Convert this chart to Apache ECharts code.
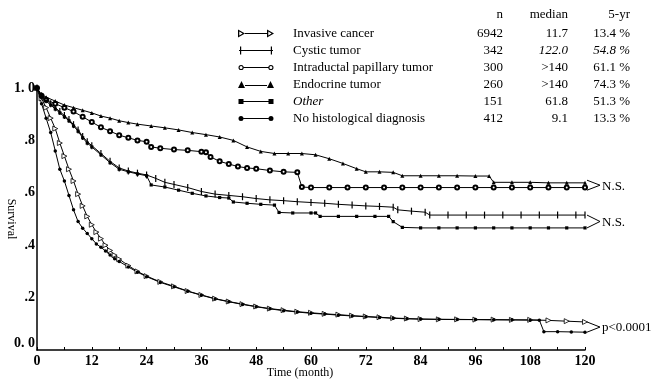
<!DOCTYPE html>
<html><head><meta charset="utf-8">
<script src="https://cdn.jsdelivr.net/npm/echarts@6/dist/echarts.min.js"></script>
<style>html,body{margin:0;padding:0;background:#fff}#c{width:655px;height:381px}</style>
</head><body><div id="c"></div>
<script>
// ---- data ----
const seriesNames = ['Invasive cancer', 'Cystic tumor', 'Intraductal papillary tumor', 'Endocrine tumor', 'Other', 'No histological diagnosis'];
const nValues = ['6942', '342', '300', '260', '151', '412'];
const medianValues = ['11.7', '122.0', '>140', '>140', '61.8', '9.1'];
const fiveYear = ['13.4 %', '54.8 %', '61.1 %', '74.3 %', '51.3 %', '13.3 %'];
const tableHeader = ['n', 'median', '5-yr'];
const pairLabels = ['N.S.', 'N.S.', 'p<0.0001'];

const invT = [0,1,2,3,4,5,6,7,8,9,10,11,12,13,14,15,16,17,18,20,22,24,27,30,33,36,39,42,45,48,51,54,57,60,63,66,69,72,75,78,81,84,88,92,96,100,104,108,112,116,120];
const invS = [1.0,0.96,0.925,0.885,0.845,0.79,0.74,0.69,0.645,0.595,0.55,0.51,0.478,0.45,0.425,0.40,0.38,0.362,0.347,0.322,0.30,0.282,0.26,0.243,0.225,0.21,0.196,0.185,0.175,0.166,0.158,0.152,0.146,0.142,0.138,0.135,0.131,0.128,0.125,0.122,0.12,0.118,0.117,0.117,0.116,0.116,0.115,0.115,0.113,0.11,0.107];

const cyT = [0,1,2,3,4,5,6,7,8,9,10,11,12,14,16,18,20,22,24,26,28,30,33,36,39,42,45,48,51,54,57,60,63,66,69,72,75,78,79,82,85,86,90,94,98,102,106,110,114,118,120];
const cyS = [1.0,0.97,0.955,0.94,0.925,0.91,0.895,0.88,0.86,0.84,0.815,0.795,0.78,0.75,0.72,0.695,0.683,0.675,0.668,0.655,0.64,0.632,0.62,0.605,0.595,0.59,0.585,0.578,0.573,0.57,0.566,0.563,0.56,0.556,0.553,0.55,0.548,0.545,0.535,0.53,0.526,0.515,0.515,0.515,0.515,0.515,0.515,0.515,0.515,0.515,0.515];

const ipT = [0,1,2,4,6,8,10,12,14,16,18,20,22,24,25,27,30,33,36,37,38,40,42,44,46,48,51,54,57,58,60,64,68,72,76,80,84,88,92,96,100,104,108,112,116,120];
const ipS = [1.0,0.97,0.955,0.94,0.925,0.91,0.89,0.87,0.85,0.835,0.82,0.81,0.80,0.795,0.775,0.77,0.765,0.762,0.757,0.755,0.737,0.72,0.71,0.70,0.695,0.692,0.685,0.68,0.678,0.622,0.62,0.62,0.62,0.62,0.62,0.62,0.62,0.62,0.62,0.62,0.62,0.62,0.62,0.62,0.62,0.62];

const endoT = [0,1,2,4,6,8,10,12,14,16,18,20,22,25,28,31,34,37,40,43,46,49,52,55,58,61,64,67,70,72,75,78,80,84,88,92,96,99,100,104,108,112,116,120];
const endoS = [1.0,0.975,0.965,0.95,0.935,0.925,0.915,0.905,0.893,0.885,0.875,0.868,0.862,0.855,0.848,0.84,0.83,0.822,0.813,0.80,0.775,0.758,0.75,0.75,0.75,0.745,0.73,0.712,0.692,0.68,0.68,0.678,0.665,0.665,0.665,0.665,0.664,0.664,0.64,0.64,0.64,0.638,0.638,0.638];

const otT = [0,1,2,3,4,5,6,7,8,9,10,11,12,14,16,18,20,22,24,25,28,31,34,37,40,42,43,46,49,52,53,56,60,61,62,66,70,74,77,78,80,84,88,92,96,100,104,108,112,116,120];
const otS = [1.0,0.965,0.95,0.935,0.92,0.905,0.89,0.875,0.855,0.835,0.81,0.79,0.775,0.745,0.715,0.69,0.68,0.672,0.665,0.63,0.622,0.61,0.598,0.588,0.582,0.58,0.565,0.56,0.556,0.553,0.525,0.523,0.523,0.523,0.51,0.51,0.51,0.51,0.51,0.49,0.468,0.466,0.466,0.466,0.466,0.466,0.466,0.466,0.466,0.466,0.466];

const nhT = [0,1,2,3,4,5,6,7,8,9,10,11,12,13,14,15,16,17,18,20,22,24,27,30,33,36,39,42,45,48,51,54,57,60,63,66,69,72,75,78,81,84,88,92,96,100,104,108,110,111,114,117,120];
const nhS = [1.0,0.94,0.885,0.83,0.76,0.69,0.645,0.59,0.535,0.49,0.465,0.445,0.425,0.405,0.392,0.378,0.363,0.348,0.338,0.317,0.297,0.28,0.258,0.241,0.224,0.209,0.195,0.184,0.174,0.165,0.157,0.15,0.145,0.14,0.137,0.133,0.13,0.127,0.124,0.121,0.119,0.118,0.117,0.116,0.116,0.115,0.115,0.114,0.114,0.07,0.07,0.069,0.068];

// ---- styling ----
const SERIF = 'Liberation Serif';
const zip = (t, s) => t.map((v, i) => [v, s[i]]);
const anchors = 'M0,0L0.01,0L0,0.01Z M36,8L35.99,8L36,7.99Z ';
const legendIcons = [
  'path://' + anchors + 'M0,0L7,4L0,8Z M1.3,2.1L1.3,5.9L4.6,4Z M7,3.5H29V4.5H7Z M29,0L36,4L29,8Z M30.3,2.1L30.3,5.9L33.6,4Z',
  'path://' + anchors + 'M1,3.5H35V4.5H1Z M2,0H3.2V8H2Z M32.8,0H34V8H32.8Z',
  'path://' + anchors + 'M0.5,4A2.6,2.6 0 1,1 5.7,4A2.6,2.6 0 1,1 0.5,4Z M1.6,4A1.5,1.5 0 1,0 4.6,4A1.5,1.5 0 1,0 1.6,4Z M5.7,3.5H30.3V4.5H5.7Z M30.3,4A2.6,2.6 0 1,1 35.5,4A2.6,2.6 0 1,1 30.3,4Z M31.4,4A1.5,1.5 0 1,0 34.4,4A1.5,1.5 0 1,0 31.4,4Z',
  'path://' + anchors + 'M0,7.5L3.5,0.5L7,7.5Z M7,4.5H29V5.5H7Z M29,7.5L32.5,0.5L36,7.5Z',
  'path://' + anchors + 'M0.5,1.5H5.5V6.5H0.5Z M5.5,3.5H30.5V4.5H5.5Z M30.5,1.5H35.5V6.5H30.5Z',
  'path://' + anchors + 'M0.5,4A2.5,2.5 0 1,1 5.5,4A2.5,2.5 0 1,1 0.5,4Z M5.5,3.5H30.5V4.5H5.5Z M30.5,4A2.5,2.5 0 1,1 35.5,4A2.5,2.5 0 1,1 30.5,4Z'
];

const seriesData = [zip(invT, invS), zip(cyT, cyS), zip(ipT, ipS), zip(endoT, endoS), zip(otT, otS), zip(nhT, nhS)];
const symbols = [
  { symbol: 'path://M0,0L10,5L0,10Z', symbolSize: 5, itemStyle: { color: '#fff', borderColor: '#000', borderWidth: 0.8 } },
  { symbol: 'path://M0,0H1V10H0Z', symbolSize: [1.2, 7], itemStyle: { color: '#000', borderWidth: 0 } },
  { symbol: 'emptyCircle', symbolSize: 4, itemStyle: { color: '#000', borderWidth: 1 } },
  { symbol: 'triangle', symbolSize: 4, itemStyle: { color: '#000', borderWidth: 0 } },
  { symbol: 'rect', symbolSize: 3.2, itemStyle: { color: '#000', borderWidth: 0 } },
  { symbol: 'circle', symbolSize: 3.5, itemStyle: { color: '#000', borderWidth: 0 } }
];

const series = seriesNames.map((name, i) => Object.assign({
  name, type: 'line', data: seriesData[i],
  showSymbol: true, showAllSymbol: true,
  lineStyle: { color: '#000', width: 1 },
  emphasis: { disabled: true },
  z: 3
}, symbols[i]));

const richBase = { fontFamily: SERIF, fontSize: 13, color: '#000', lineHeight: 15 };
const rich = {
  sp: Object.assign({ width: 14 }, richBase),
  nm: Object.assign({ width: 180 }, richBase),
  nmI: Object.assign({ width: 180, fontStyle: 'italic' }, richBase),
  n: Object.assign({ width: 30, align: 'right' }, richBase),
  md: Object.assign({ width: 65, align: 'right' }, richBase),
  mdI: Object.assign({ width: 65, align: 'right', fontStyle: 'italic' }, richBase),
  yr: Object.assign({ width: 62, align: 'right' }, richBase),
  yrI: Object.assign({ width: 62, align: 'right', fontStyle: 'italic' }, richBase)
};

const chart = echarts.init(document.getElementById('c'), null, { renderer: 'canvas' });
chart.setOption({
  animation: false,
  backgroundColor: '#fff',
  grid: { left: 37, right: 70, top: 88, bottom: 31, containLabel: false, outerBoundsMode: 'none' },
  legend: {
    orient: 'vertical', left: 238, top: 26, padding: 0,
    itemWidth: 36, itemHeight: 8, itemGap: 2,
    selectedMode: false,
    itemStyle: { color: '#000', borderWidth: 0 },
    data: seriesNames.map((name, i) => ({ name, icon: legendIcons[i] })),
    formatter: function (name) {
      const i = seriesNames.indexOf(name);
      const it = i === 1 ? 'I' : '';
      const nm = i === 4 ? 'nmI' : 'nm';
      return '{sp| }{' + nm + '|' + name + '}{n|' + nValues[i] + '}{md' + it + '|' + medianValues[i] + '}{yr' + it + '|' + fiveYear[i] + '}';
    },
    textStyle: Object.assign({ rich }, richBase)
  },
  xAxis: {
    type: 'value', min: 0, max: 120, interval: 6,
    name: 'Time (month)', nameLocation: 'middle', nameGap: 17, nameMoveOverlap: false,
    nameTextStyle: { fontFamily: SERIF, fontSize: 12, color: '#000', padding: [0, 22, 0, 0] },
    axisLine: { lineStyle: { color: '#000', width: 1.5 } },
    axisTick: { inside: true, length: 3, lineStyle: { color: '#000', width: 1 } },
    axisLabel: {
      fontFamily: SERIF, fontSize: 14, fontWeight: 'bold', color: '#000', margin: 4,
      formatter: v => (v % 12 === 0 ? String(v) : '')
    },
    splitLine: { show: false }
  },
  yAxis: {
    type: 'value', min: 0, max: 1, interval: 0.2,
    name: 'Survival', nameLocation: 'middle', nameRotate: -90, nameGap: 20, nameMoveOverlap: false,
    nameTextStyle: { fontFamily: SERIF, fontSize: 12, color: '#000' },
    axisLine: { show: true, lineStyle: { color: '#000', width: 1.5 } },
    axisTick: { show: false },
    axisLabel: {
      fontFamily: SERIF, fontSize: 14, fontWeight: 'bold', color: '#000', margin: 2,
      formatter: v => (v === 0 ? '{z|0. 0}' : v === 1 ? '1. 0' : '.' + Math.round(v * 10)),
      rich: { z: { fontFamily: SERIF, fontSize: 14, fontWeight: 'bold', color: '#000', padding: [0, 0, 14, 0] } }
    },
    splitLine: { show: false }
  },
  series
});

// header of the legend table and end-of-curve comparison brackets
const legendHeaderX = [503, 568, 630];
const graphics = tableHeader.map((t, i) => ({
  type: 'text', x: legendHeaderX[i], y: 15,
  style: { text: t, fontFamily: SERIF, fontSize: 13, fill: '#000', align: 'right', verticalAlign: 'middle' }
}));
const pairs = [[endoS, ipS], [cyS, otS], [invS, nhS]];
const lastT = 120;
pairs.forEach((p, k) => {
  const a = chart.convertToPixel({ gridIndex: 0 }, [lastT, p[0][p[0].length - 1]]);
  const b = chart.convertToPixel({ gridIndex: 0 }, [lastT, p[1][p[1].length - 1]]);
  const mid = (a[1] + b[1]) / 2;
  const yA = Math.min(a[1], mid - 5), yB = Math.max(b[1], mid + 5);
  const apexX = a[0] + 15;
  graphics.push({
    type: 'polyline',
    shape: { points: [[a[0] + 2, yA], [apexX, mid], [a[0] + 2, yB]] },
    style: { stroke: '#000', lineWidth: 1, fill: null }
  });
  graphics.push({
    type: 'text', x: apexX + 2, y: mid + 1,
    style: { text: pairLabels[k], fontFamily: SERIF, fontSize: 13, fill: '#000', align: 'left', verticalAlign: 'middle' }
  });
});
chart.setOption({ graphic: graphics });
</script>
</body></html>
